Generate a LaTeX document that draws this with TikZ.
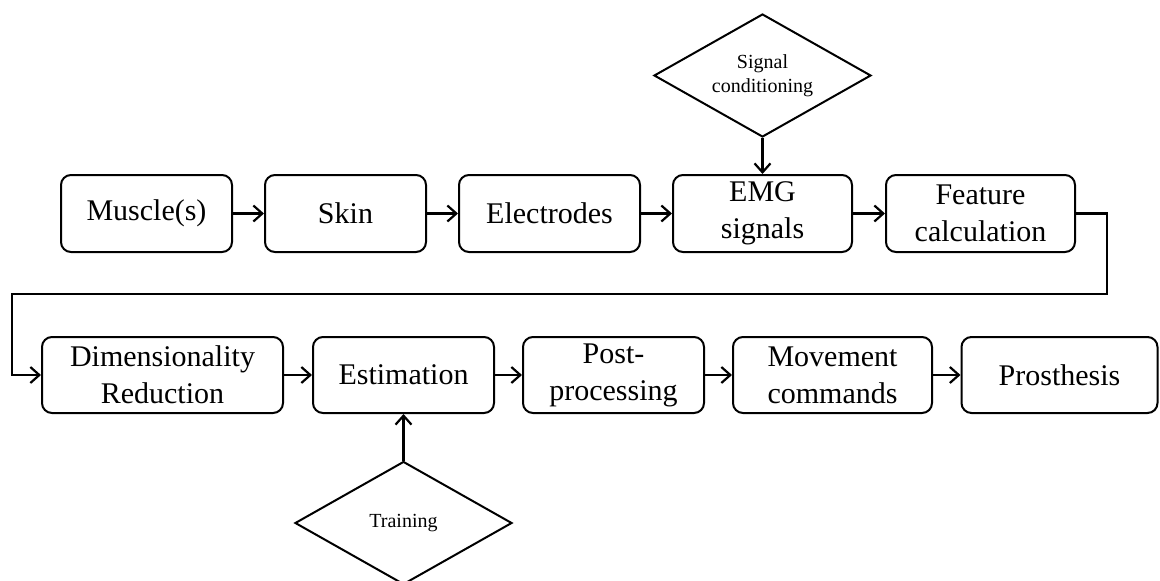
\documentclass[tikz,border=0pt]{standalone}
\usepackage{fontspec}
\setmainfont{Liberation Serif}
\usetikzlibrary{arrows.meta,shapes.geometric}

\tikzset{
  block/.style={draw, line width=2pt, rounded corners=10pt, inner sep=0pt,
    minimum height=77pt, align=center, font=\fontsize{30}{37}\selectfont},
  decision/.style={draw, diamond, line width=2pt, inner sep=0pt, aspect=1.76,
    minimum width=217pt, minimum height=123pt, align=center,
    font=\fontsize{20}{24}\selectfont},
  arr/.style={line width=2.2pt, -{Straight Barb[length=9pt,width=16pt,line width=2.2pt]}}
}

\begin{document}
\begin{tikzpicture}[x=1pt,y=-1pt]
\useasboundingbox (0,0) rectangle (1160,581);

% upper chain
\node[block, minimum width=171pt] (muscle) at (146.5,213.5) {Muscle(s)};
\node[block, minimum width=161pt] (skin)   at (345.5,213.5) {Skin};
\node[block, minimum width=181pt] (elec)   at (549.5,213.5) {Electrodes};
\node[block, minimum width=179pt] (emg)    at (762.5,213.5) {EMG\\signals};
\node[block, minimum width=189pt] (feat)   at (980.5,213.5) {Feature\\calculation};

% lower chain
\node[block, minimum width=241pt, minimum height=76pt] (dim)  at (162.5,375) {Dimensionality\\Reduction};
\node[block, minimum width=181pt, minimum height=76pt] (est)  at (403.5,375) {Estimation};
\node[block, minimum width=181pt, minimum height=76pt] (post) at (613.5,375) {Post-\\processing};
\node[block, minimum width=199pt, minimum height=76pt] (move) at (832.5,375) {Movement\\commands};
\node[block, minimum width=196pt, minimum height=76pt] (pros) at (1059.5,375) {Prosthesis};

% side inputs
\node[decision] (cond)  at (762.5,75.5) {Signal\\conditioning};
\node[decision] (train) at (403.5,523) {Training};

% connectors
\draw[arr] (muscle) -- (skin);
\draw[arr] (skin) -- (elec);
\draw[arr] (elec) -- (emg);
\draw[arr] (emg) -- (feat);
\draw[arr] (cond) -- (emg);

\coordinate (turnR) at (1107,294);
\coordinate (turnL) at (12,294);
\draw[arr] (feat.east) -| (turnR) -- (turnL) |- (dim.west);

\draw[arr] (dim) -- (est);
\draw[arr] (est) -- (post);
\draw[arr] (post) -- (move);
\draw[arr] (move) -- (pros);
\draw[arr] (train) -- (est);
\end{tikzpicture}
\end{document}
